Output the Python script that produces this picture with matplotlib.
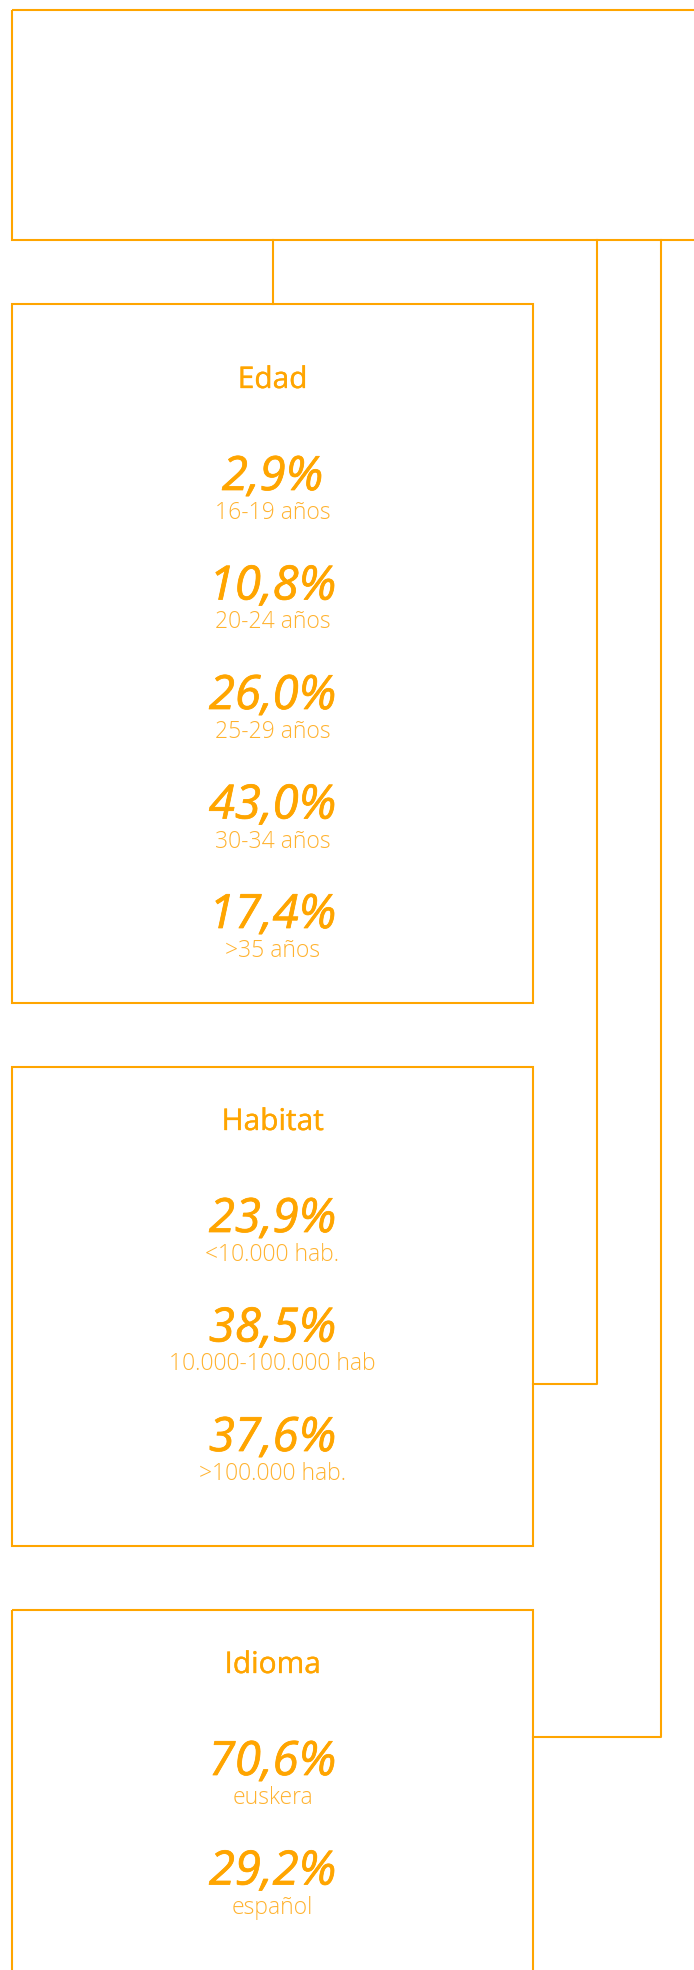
import matplotlib
matplotlib.use("Agg")
import matplotlib.pyplot as plt
import matplotlib.patheffects as pe
from matplotlib.patches import Rectangle

# datos
edad_vals = ["2,9%", "10,8%", "26,0%", "43,0%", "17,4%"]
edad_labels = ["16-19 años", "20-24 años", "25-29 años", "30-34 años", ">35 años"]
habitat_vals = ["23,9%", "38,5%", "37,6%"]
habitat_labels = ["<10.000 hab.", "10.000-100.000 hab", ">100.000 hab."]
idioma_vals = ["70,6%", "29,2%"]
idioma_labels = ["euskera", "español"]
sections = [("Edad", edad_vals, edad_labels),
            ("Habitat", habitat_vals, habitat_labels),
            ("Idioma", idioma_vals, idioma_labels)]

ORANGE = "#FFA500"
LIGHT = "#FFB22E"
W, H = 694, 1970
LW = 1.5

fig = plt.figure(figsize=(W / 100, H / 100), dpi=100)
ax = fig.add_axes([0, 0, 1, 1])
ax.set_xlim(0, W)
ax.set_ylim(H, 0)
ax.axis("off")

# caja superior (sale por la derecha)
ax.add_patch(Rectangle((12, 10), 760, 230, fill=False, ec=ORANGE, lw=LW))

box_left, box_right = 12, 533
cx = (box_left + box_right) / 2
# (top, bottom, title baseline)
boxes = [(304, 1003, 388), (1067, 1546, 1130), (1610, 2100, 1673)]
step = 109.5
semi = [pe.withStroke(linewidth=0.55, foreground=ORANGE)]

for (title, vals, labels), (top, bot, tb) in zip(sections, boxes):
    ax.add_patch(Rectangle((box_left, top), box_right - box_left, bot - top,
                           fill=False, ec=ORANGE, lw=LW))
    ax.text(cx, tb, title, ha="center", va="baseline", color=ORANGE,
            fontsize=21.5, family="Open Sans",
            path_effects=[pe.withStroke(linewidth=0.25, foreground=ORANGE)])
    for k, (v, lab) in enumerate(zip(vals, labels)):
        yb = tb + 102 + k * step
        ax.text(cx, yb, v, ha="center", va="baseline", color=ORANGE,
                fontsize=34, family="Open Sans", style="italic", weight="normal",
                path_effects=semi)
        ax.text(cx, yb + 29, lab, ha="center", va="baseline", color=LIGHT,
                fontsize=16.5, family="Open Sans", weight="light")

# conectores
ax.plot([273, 273], [240, 304], color=ORANGE, lw=LW)
ax.plot([597, 597, box_right], [240, 1384, 1384], color=ORANGE, lw=LW)
ax.plot([661, 661, box_right], [240, 1737, 1737], color=ORANGE, lw=LW)

fig.savefig("out.png", dpi=100, facecolor="white")
